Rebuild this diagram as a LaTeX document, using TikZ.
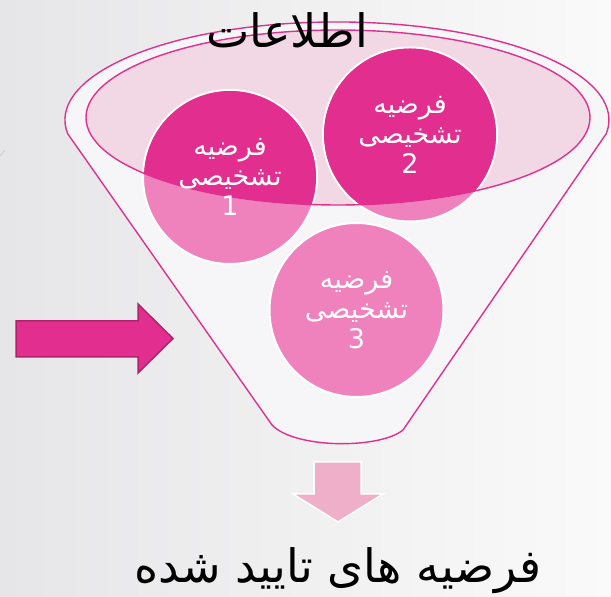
\documentclass[tikz,border=0pt]{standalone}
\usepackage{fontspec}
\newfontfamily\arabicfont[Script=Arabic]{DejaVu Sans}
\TeXXeTstate=1
\definecolor{pinkD}{HTML}{E22E8F}
\definecolor{pinkL}{HTML}{EF82BD}
\definecolor{pinkE}{HTML}{F2D8E4}
\definecolor{pinkLine}{HTML}{E0308F}
\definecolor{arrowEdge}{HTML}{B0226E}
\definecolor{downPink}{HTML}{F0AFC8}
\definecolor{funnelFill}{HTML}{F6F6F8}
\definecolor{bgL}{HTML}{E6E6E8}
\definecolor{bgR}{HTML}{FAFAFA}
\begin{document}
\begin{tikzpicture}[x=1pt,y=1pt,
  hyp/.style={circle, minimum size=174pt, inner sep=0pt, draw=white, line width=2pt},
  hyptext/.style={text=white, align=center, inner sep=0pt, font=\arabicfont\fontsize{27}{30}\selectfont},
  funnelline/.style={draw=pinkLine, line width=1.4pt, line join=round},
]
\useasboundingbox (0,0) rectangle (611,597);
\shade[left color=bgL, right color=bgR] (0,0) rectangle (611,597);
\draw[gray!45, line width=0.6pt] (0,441) -- (5,447);
% funnel
\path[fill=funnelFill, funnelline] (67.6,463.4) arc[start angle=188, end angle=-8, x radius=272pt, y radius=98pt]
  -- (403,167) .. controls (380,148) and (295,148) .. (272,172) -- cycle;
\fill[pinkE] (338,479.5) ellipse[x radius=252pt, y radius=87.5pt];
% circles
\node[hyp, fill=pinkL] (h1) at (230,420) {};
\node[hyp, fill=pinkL] (h2) at (410,462.5) {};
\node[hyp, fill=pinkL] (h3) at (356.5,287) {};
\begin{scope}
  \clip (338,479.5) ellipse[x radius=252pt, y radius=87.5pt];
  \fill[pinkD] (h1.center) circle[radius=86pt];
  \fill[pinkD] (h2.center) circle[radius=86pt];
\end{scope}
\draw[funnelline] (338,479.5) ellipse[x radius=252pt, y radius=87.5pt];
% texts
\node[hyptext] (t1) at (h1.center) {\beginR فرضیه\endR\\\beginR تشخیصی\endR\\1};
\node[hyptext] (t2) at (h2.center) {\beginR فرضیه\endR\\\beginR تشخیصی\endR\\2};
\node[hyptext] (t3) at (h3.center) {\beginR فرضیه\endR\\\beginR تشخیصی\endR\\3};
\node[anchor=base, inner sep=0pt, font=\arabicfont\fontsize{46}{50}\selectfont] (title) at (287,549) {\beginR اطلاعات\endR};
% arrows
\filldraw[fill=pinkD, draw=arrowEdge, line width=1.5pt, line join=miter]
  (16,276) -- (138,276) -- (138,293) -- (173,258.5) -- (138,224) -- (138,240) -- (16,240) -- cycle;
\filldraw[fill=downPink, draw=white, line width=1.5pt, line join=miter]
  (314,135) -- (361,135) -- (361,103) -- (383,103) -- (338,75) -- (293,103) -- (314,103) -- cycle;
\node[anchor=base, inner sep=0pt, font=\arabicfont\fontsize{46}{50}\selectfont] (result) at (338,14) {\beginR فرضیه های تایید شده\endR};
\end{tikzpicture}
\end{document}
